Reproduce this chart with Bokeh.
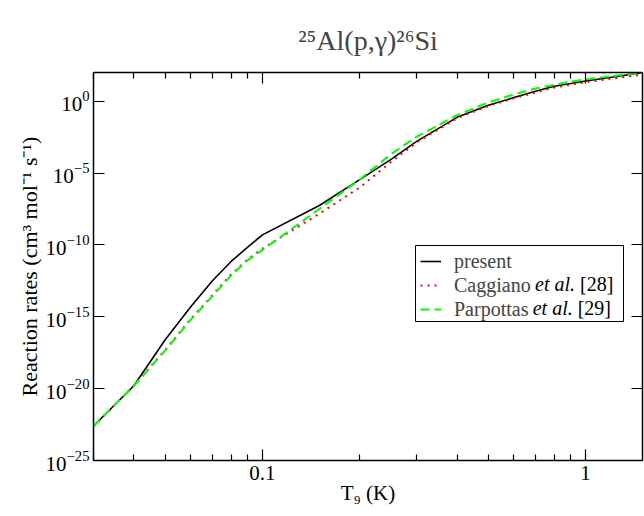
from bokeh.plotting import figure
from bokeh.models import (FixedTicker, LogAxis, Legend, LegendItem, Label,
                          BoxAnnotation, CustomJSTickFormatter)
from bokeh.embed import file_html
from bokeh.resources import INLINE

# ---- data ----
t9 = [0.03, 0.04, 0.05, 0.06, 0.07, 0.08, 0.09, 0.1, 0.15, 0.2, 0.25,
      0.3, 0.4, 0.5, 0.6, 0.7, 0.8, 0.9, 1.0, 1.25, 1.5]
rate_present = [2.5e-23, 1.6e-20, 2.5e-17, 5.0e-15, 3.2e-13, 7.1e-12, 7.1e-11,
                5.0e-10, 5.6e-8, 3.5e-6, 8.9e-5, 1.6e-3, 7.6e-2, 0.52, 1.8,
                4.9, 11.0, 17.0, 25.7, 52.5, 100.0]
rate_caggiano = [2.5e-23, 1.6e-20, 5.0e-18, 7.1e-16, 3.2e-14, 8.9e-13, 1.0e-11,
                 5.6e-11, 1.5e-8, 1.0e-6, 6.0e-5, 1.35e-3, 6.6e-2, 0.47, 1.6,
                 4.0, 9.1, 14.1, 21.4, 41.7, 70.8]
rate_parpottas = [2.5e-23, 1.6e-20, 4.5e-18, 6.3e-16, 2.8e-14, 7.6e-13, 8.7e-12,
                  4.5e-11, 3.2e-8, 3.6e-6, 2.1e-4, 3.4e-3, 0.107, 0.83, 3.0,
                  7.8, 14.0, 23.3, 33.0, 62.0, 98.0]

x_major = [0.1, 1.0]
x_minor = [0.03, 0.04, 0.05, 0.06, 0.07, 0.08, 0.09,
           0.2, 0.3, 0.4, 0.5, 0.6, 0.7, 0.8, 0.9]
y_major = [1e-25, 1e-20, 1e-15, 1e-10, 1e-5, 1e0]

legend_names = ["present", "Caggiano", "Parpottas"]
legend_etal = ["", "et al.", "et al."]
legend_refs = ["", "[28]", "[29]"]
title_text = "\u00b2\u2075Al(p,\u03b3)\u00b2\u2076Si"
x_label = "T\u2089 (K)"
y_label = "Reaction rates (cm\u00b3 mol\u207b\u00b9 s\u207b\u00b9)"

FONT = "Liberation Serif"
LEG_SIZE = "20px"

p = figure(width=644, height=516, x_axis_type="log", y_axis_type="log",
           x_range=(0.03, 1.5), y_range=(1e-25, 1e2),
           output_backend="svg", toolbar_location=None,
           min_border_left=93, min_border_right=2,
           min_border_top=72, min_border_bottom=56)
p.xgrid.visible = False
p.ygrid.visible = False
p.outline_line_color = None
p.background_fill_color = "white"
p.border_fill_color = "white"

p.title.text = title_text
p.title.text_font = FONT
p.title.text_font_size = "28px"
p.title.text_font_style = "normal"
p.title.align = "center"
p.title.standoff = 34

xticker = FixedTicker(ticks=x_major, minor_ticks=x_minor)
yticker = FixedTicker(ticks=y_major, minor_ticks=[])

xa = p.xaxis[0]
xa.ticker = xticker
xa.formatter = CustomJSTickFormatter(code="return tick < 1 ? tick.toFixed(1) : tick.toFixed(0);")
ya = p.yaxis[0]
ya.ticker = yticker


def style_axis(ax):
    ax.axis_line_color = "black"
    ax.axis_line_width = 1.5
    ax.major_tick_line_color = "black"
    ax.minor_tick_line_color = "black"
    ax.major_tick_line_width = 1.2
    ax.minor_tick_line_width = 1.2
    ax.major_tick_in = 11
    ax.major_tick_out = 0
    ax.minor_tick_in = 6
    ax.minor_tick_out = 0


for ax in (xa, ya):
    style_axis(ax)
    ax.major_label_text_font = FONT
    ax.major_label_text_font_size = "21px"
    ax.major_label_text_color = "black"
    ax.axis_label_text_font = FONT
    ax.axis_label_text_font_style = "normal"
    ax.axis_label_text_color = "black"
xa.axis_label_text_font_size = "21px"
ya.axis_label_text_font_size = "22px"
xa.major_label_standoff = 5
ya.major_label_standoff = 4
xa.axis_label = x_label
ya.axis_label = y_label
xa.axis_label_standoff = -2
ya.axis_label_standoff = 1

empty = CustomJSTickFormatter(code="return '';")
top = LogAxis(ticker=xticker, formatter=empty)
right = LogAxis(ticker=yticker, formatter=empty)
for ax in (top, right):
    style_axis(ax)
    ax.major_label_text_font_size = "0px"
    ax.major_label_standoff = 0
p.add_layout(top, "above")
p.add_layout(right, "right")

r1 = p.line(t9, rate_present, line_color="black", line_width=1.6)
r2 = p.line(t9, rate_caggiano, line_color="#ff0000", line_width=2,
            line_dash="2 5")
r3 = p.line(t9, rate_parpottas, line_color="#00ff00", line_width=2,
            line_dash="9 5")

# legend frame (screen units relative to the plot frame)
p.add_layout(BoxAnnotation(left=322, right=530, bottom=139, top=215,
                           left_units="screen", right_units="screen",
                           bottom_units="screen", top_units="screen",
                           fill_color="white", fill_alpha=1.0,
                           line_color="black", line_width=1,
                           line_alpha=1.0))

legend = Legend(items=[LegendItem(label=legend_names[0], renderers=[r1]),
                       LegendItem(label=legend_names[1], renderers=[r2]),
                       LegendItem(label=legend_names[2], renderers=[r3])],
                location=(327, 139))
legend.label_text_font = FONT
legend.label_text_font_size = LEG_SIZE
legend.label_text_baseline = "middle"
legend.glyph_width = 21
legend.glyph_height = 24
legend.label_standoff = 13
legend.label_height = 24
legend.padding = 2
legend.spacing = 0
legend.margin = 0
legend.border_line_color = None
legend.background_fill_alpha = 0.0
p.add_layout(legend)

# italic "et al." and reference numbers following the legend names
row_y = [201, 177, 153]
etal_x = [0, 441.5, 439.2]
ref_x = [0, 486.5, 484.2]
for i in (1, 2):
    p.add_layout(Label(x=etal_x[i], y=row_y[i], x_units="screen",
                       y_units="screen", text=legend_etal[i],
                       text_font=FONT, text_font_size=LEG_SIZE,
                       text_font_style="italic", text_baseline="middle",
                       text_align="left", text_color="black"))
    p.add_layout(Label(x=ref_x[i], y=row_y[i], x_units="screen",
                       y_units="screen", text=legend_refs[i],
                       text_font=FONT, text_font_size=LEG_SIZE,
                       text_baseline="middle", text_align="left",
                       text_color="black"))

open("out.html", "w").write(file_html(p, INLINE))
